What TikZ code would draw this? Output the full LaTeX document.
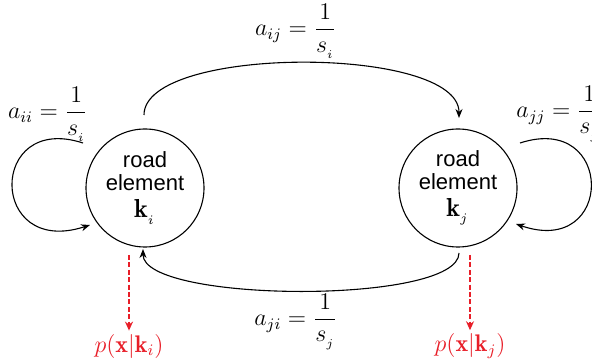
\RequirePackage{fix-cm}
\documentclass[tikz,border=0pt]{standalone}
\usepackage{amsmath}
\usepackage{fontspec}
\newfontfamily\hv{Liberation Sans}
\usetikzlibrary{arrows.meta}
\definecolor{myred}{RGB}{232,30,40}
\begin{document}
\begin{tikzpicture}[x=0.5pt,y=-0.5pt,
  state/.style={draw,circle,minimum size=59pt,inner sep=0pt,line width=0.55pt,
    align=center,font=\hv\fontsize{11}{11.5}\selectfont},
  kk/.style={},
  lab/.style={font=\fontsize{12}{14}\selectfont,inner sep=0pt},
  conn/.style={line width=0.55pt,-{Stealth[length=4.5pt,width=3.5pt]}},
  obs/.style={line width=1pt,myred,dash pattern=on 2.5pt off 1.2pt,-{Stealth[length=4.5pt,width=4pt]}},
  obslab/.style={text=myred,font=\fontsize{12}{14}\selectfont,inner sep=0pt}]
\useasboundingbox (0,0) rectangle (592,362);
\node[state] (ki) at (145,188) {road\\element\\[2pt]{\fontsize{13}{14}\selectfont$\mathbf{k}_{_i}$}};
\node[state] (kj) at (458,188) {road\\element\\[2pt]{\fontsize{13}{14}\selectfont$\mathbf{k}_{_j}$}};
% top arc
\coordinate (t1) at (144,115);
\coordinate (t2) at (459,118);
\draw[conn] (t1) .. controls (144,45) and (459,45) .. (t2);
\node[lab] (lij) at (296,31) {$a_{ij}=\dfrac{1}{s_{_i}}$};
% bottom arc
\coordinate (b1) at (459,253);
\coordinate (b2) at (143,249);
\draw[conn] (b1) .. controls (459,305) and (143,303) .. (b2);
\node[lab] (lji) at (296,322) {$a_{ji}=\dfrac{1}{s_{_j}}$};
% left self loop
\coordinate (l1) at (83,143);
\coordinate (l2) at (90,225);
\draw[conn] (l1) .. controls (-12,112) and (-12,258) .. (l2);
\node[lab] (lii) at (48,114) {$a_{ii}=\dfrac{1}{s_{_i}}$};
% right self loop
\coordinate (r1) at (520,143);
\coordinate (r2) at (516,224);
\draw[conn] (r1) .. controls (615,112) and (615,258) .. (r2);
\node[lab,anchor=west] (ljj) at (516,114) {$a_{jj}=\dfrac{1}{s_{_j}}$};
% observations
\node[obslab] (pi) at (129,346) {$p(\mathbf{x}|\mathbf{k}_i)$};
\node[obslab] (pj) at (470,346) {$p(\mathbf{x}|\mathbf{k}_j)$};
\coordinate (oi) at (129,255);
\coordinate (oj) at (470,255);
\draw[obs] (oi) -- ([yshift=1.5pt]pi.north);
\draw[obs] (oj) -- ([yshift=1.5pt]pj.north);
\end{tikzpicture}
\end{document}
